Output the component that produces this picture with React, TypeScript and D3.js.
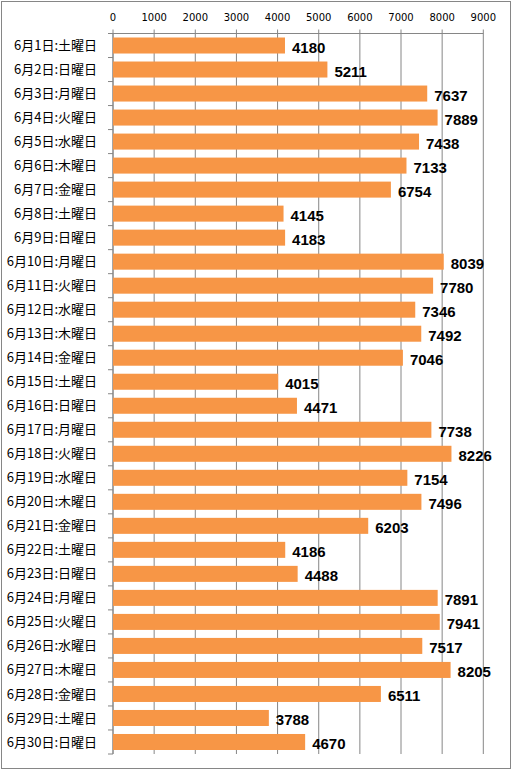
import React from "react";
import * as d3 from "d3";

const categories: string[] = [
  "6月1日:土曜日", "6月2日:日曜日", "6月3日:月曜日", "6月4日:火曜日", "6月5日:水曜日",
  "6月6日:木曜日", "6月7日:金曜日", "6月8日:土曜日", "6月9日:日曜日", "6月10日:月曜日",
  "6月11日:火曜日", "6月12日:水曜日", "6月13日:木曜日", "6月14日:金曜日", "6月15日:土曜日",
  "6月16日:日曜日", "6月17日:月曜日", "6月18日:火曜日", "6月19日:水曜日", "6月20日:木曜日",
  "6月21日:金曜日", "6月22日:土曜日", "6月23日:日曜日", "6月24日:月曜日", "6月25日:火曜日",
  "6月26日:水曜日", "6月27日:木曜日", "6月28日:金曜日", "6月29日:土曜日", "6月30日:日曜日",
];

const values: number[] = [
  4180, 5211, 7637, 7889, 7438, 7133, 6754, 4145, 4183, 8039,
  7780, 7346, 7492, 7046, 4015, 4471, 7738, 8226, 7154, 7496,
  6203, 4186, 4488, 7891, 7941, 7517, 8205, 6511, 3788, 4670,
];

const xTicks: number[] = [0, 1000, 2000, 3000, 4000, 5000, 6000, 7000, 8000, 9000];

const W = 513;
const H = 771;
const left = 113;
const right = 483.3;
const top = 33.5;
const bottom = 754;

export default function App() {
  const x = d3.scaleLinear().domain([0, 9000]).range([left, right]);
  const y = d3
    .scaleBand<string>()
    .domain(categories)
    .range([top, bottom])
    .paddingInner(1 / 3)
    .paddingOuter(1 / 6);
  const step = y.step();
  const grid = "#868686";

  return (
    <div style={{ position: "absolute", left: 0, top: 0 }}>
      <svg width={W} height={H} style={{ display: "block", background: "#fff" }}>
        <rect x={1.5} y={1.5} width={509} height={767} fill="#fff" stroke={grid} strokeWidth={1} />
        {xTicks.map((t) => (
          <g key={t}>
            <line x1={x(t)} x2={x(t)} y1={top - 4} y2={bottom} stroke={grid} strokeWidth={1} />
            <text
              x={x(t)}
              y={21}
              textAnchor="middle"
              fontFamily="'DejaVu Sans', Verdana, sans-serif"
              fontSize={10}
              fill="#000"
            >
              {t}
            </text>
          </g>
        ))}
        <line x1={left} x2={right} y1={top} y2={top} stroke={grid} strokeWidth={1} />
        <line x1={left} x2={left} y1={top} y2={bottom} stroke={grid} strokeWidth={1} />
        {d3.range(categories.length + 1).map((i) => (
          <line
            key={i}
            x1={left - 5}
            x2={left}
            y1={top + i * step}
            y2={top + i * step}
            stroke={grid}
            strokeWidth={1}
          />
        ))}
        {categories.map((c, i) => {
          const yc = (y(c) as number) + y.bandwidth() / 2;
          return (
            <g key={c}>
              <rect
                x={x(0)}
                y={y(c) as number}
                width={x(values[i]) - x(0)}
                height={y.bandwidth()}
                fill="#F79646"
              />
              <text
                x={97}
                y={yc}
                dy="0.35em"
                textAnchor="end"
                fontFamily="'Noto Sans CJK JP', sans-serif"
                fontSize={13}
                fill="#000"
              >
                {c}
              </text>
              <text
                x={x(values[i]) + 7}
                y={yc + 2}
                dy="0.36em"
                fontFamily="'Liberation Sans', Arial, sans-serif"
                fontWeight="bold"
                fontSize={15}
                fill="#000"
              >
                {values[i]}
              </text>
            </g>
          );
        })}
      </svg>
    </div>
  );
}
